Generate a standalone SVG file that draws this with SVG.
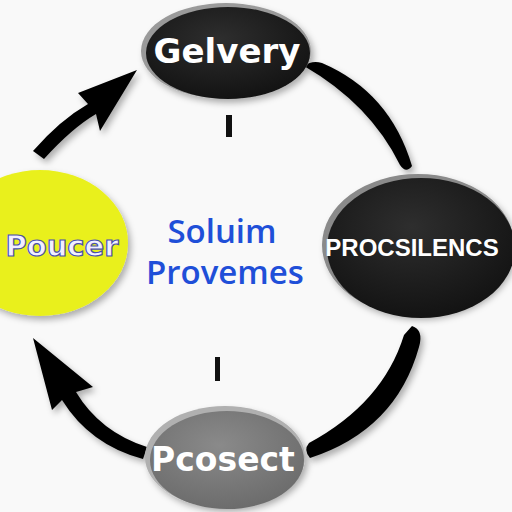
<svg xmlns="http://www.w3.org/2000/svg" width="512" height="512" viewBox="0 0 512 512">
<defs>
<filter id="sh" x="-20%" y="-20%" width="140%" height="140%"><feDropShadow dx="3" dy="4" stdDeviation="3" flood-color="#000" flood-opacity="0.3"/></filter>
<radialGradient id="gBlack" cx="0.45" cy="0.35" r="0.7"><stop offset="0" stop-color="#2e2e2e"/><stop offset="1" stop-color="#111"/></radialGradient>
<radialGradient id="gGray" cx="0.45" cy="0.35" r="0.7"><stop offset="0" stop-color="#8a8a8a"/><stop offset="1" stop-color="#6a6a6a"/></radialGradient>
<style>
.lbl{font-family:"DejaVu Sans","Liberation Sans",sans-serif;font-weight:bold;text-anchor:middle}
.wt{fill:#fff}
.mid{font-family:"Open Sans","DejaVu Sans",sans-serif;font-weight:600;fill:#1f4fd8;text-anchor:middle}
.conn{fill:#000;filter:url(#sh)}
</style>
</defs>
<rect width="512" height="512" fill="#f9f9f9"/>
<g id="connectors">
<path class="conn" d="M33,151 Q60,120 88,104 L78,93 L137,70 L100,131 L96,114 Q72,128 44,159 Z"/>
<path class="conn" d="M143,459 Q90,445 62,400 L52,410 L33,338 L93,387 L76,392 Q100,432 147,447 Z"/>
<path class="conn" d="M304,66 Q312,60 322,63 Q390,92 412,166 Q406,174 400,165 Q370,104 304,66 Z"/>
<path class="conn" d="M412,326 Q424,330 419,347 Q396,430 310,458 Q303,450 309,443 Q383,403 404,335 Z"/>
</g>
<g id="gelvery">
<ellipse cx="226" cy="51" rx="85" ry="48" fill="#9a9a9a" filter="url(#sh)"/>
<ellipse cx="228" cy="53" rx="82" ry="46" fill="url(#gBlack)"/>
<text class="lbl wt" x="227" y="63" font-size="34">Gelvery</text>
</g>
<g id="poucer">
<ellipse cx="40" cy="243" rx="88" ry="73" fill="#e9f01c" filter="url(#sh)"/>
<text class="lbl" x="62" y="256" font-size="29" fill="#f2f0ff" stroke="#4a4fae" stroke-width="1.2">Poucer</text>
</g>
<g id="procsilencs">
<ellipse cx="418" cy="245" rx="96" ry="71" fill="#8a8a8a" filter="url(#sh)"/>
<ellipse cx="421" cy="248" rx="94" ry="70" fill="url(#gBlack)"/>
<text x="412" y="256" font-size="24" fill="#fff" text-anchor="middle" font-weight="bold" font-family="Liberation Sans, Arial, sans-serif">PROCSILENCS</text>
</g>
<g id="pcosect">
<ellipse cx="225" cy="457" rx="80" ry="51" fill="#b0b0b0" filter="url(#sh)"/>
<ellipse cx="227" cy="460" rx="77" ry="49" fill="url(#gGray)"/>
<text class="lbl wt" x="223" y="471" font-size="33">Pcosect</text>
</g>
<g id="center">
<text class="mid" x="222" y="243" font-size="33">Soluim</text>
<text class="mid" x="225" y="284" font-size="33">Provemes</text>
</g>
<g id="marks">
<rect x="226" y="115" width="6" height="22" fill="#111"/>
<rect x="215" y="357" width="5" height="24" fill="#111"/>
</g>
</svg>
